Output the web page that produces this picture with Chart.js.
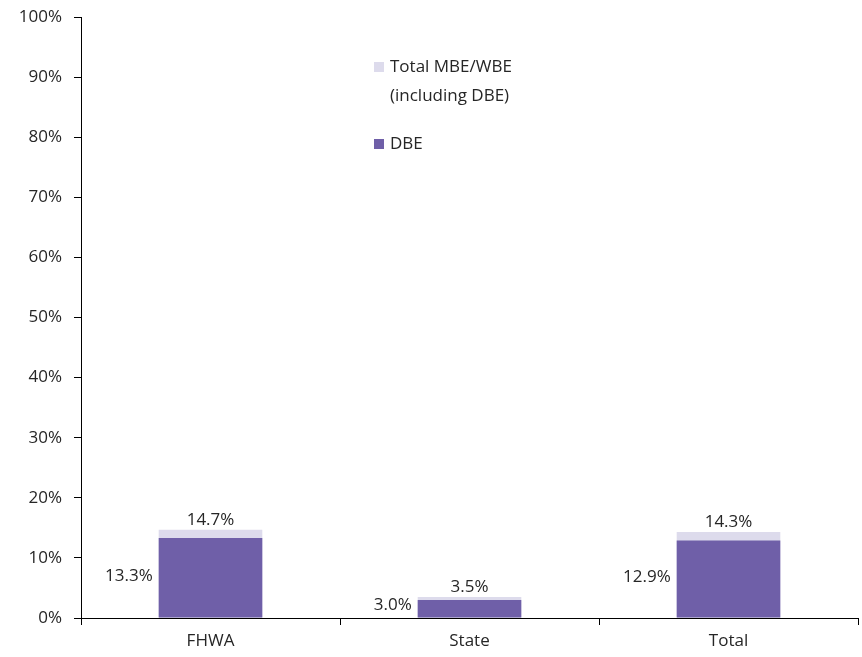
<!DOCTYPE html>
<html>
<head>
    <title>DBE and MBE/WBE utilization</title>
    <script src="https://cdn.jsdelivr.net/npm/chart.js"></script>
    <style>
        body { margin: 0; background: #fff; }
        #wrap { width: 862px; height: 657px; }
    </style>
</head>
<body>
    <div id="wrap"><canvas id="util_chart" width="862" height="657"></canvas></div>
    <script>
        const categories = ['FHWA', 'State', 'Total'];
        const dbe_values = [13.3, 3.0, 12.9];
        const total_values = [14.7, 3.5, 14.3];
        const total_label = ['Total MBE/WBE', '(including DBE)'];
        const dbe_label = 'DBE';

        const text_color = '#262626';
        const font_family = "'Open Sans', 'Noto Sans', sans-serif";
        const font_size = 17;

        // values next to the bars: DBE to the left, total on top
        const barLabels = {
            id: 'barLabels',
            afterDatasetsDraw(chart) {
                const ctx = chart.ctx;
                ctx.save();
                ctx.font = font_size + 'px ' + font_family;
                ctx.fillStyle = text_color;
                const totalMeta = chart.getDatasetMeta(0);
                const dbeMeta = chart.getDatasetMeta(1);
                totalMeta.data.forEach(function (bar, i) {
                    ctx.textAlign = 'center';
                    ctx.textBaseline = 'bottom';
                    ctx.fillText(total_values[i].toFixed(1) + '%', bar.x, bar.y - 1);
                });
                dbeMeta.data.forEach(function (bar, i) {
                    ctx.textAlign = 'right';
                    ctx.textBaseline = 'middle';
                    let y = (bar.y + bar.base) / 2 - 2;
                    if (bar.base - bar.y < 30) y = bar.base - 12;
                    ctx.fillText(dbe_values[i].toFixed(1) + '%', bar.x - bar.width / 2 - 6, y);
                });
                ctx.restore();
            }
        };

        // legend sitting inside the plot area
        const innerLegend = {
            id: 'innerLegend',
            afterDraw(chart) {
                const ctx = chart.ctx;
                ctx.save();
                ctx.font = font_size + 'px ' + font_family;
                ctx.textAlign = 'left';
                ctx.textBaseline = 'middle';
                const ds = chart.data.datasets;
                ctx.fillStyle = ds[0].backgroundColor;
                ctx.fillRect(374, 62, 10, 10);
                ctx.fillStyle = ds[1].backgroundColor;
                ctx.fillRect(374, 139, 10, 10);
                ctx.fillStyle = text_color;
                ctx.fillText(total_label[0], 390, 67);
                ctx.fillText(total_label[1], 390, 96);
                ctx.fillText(dbe_label, 390, 144);
                ctx.restore();
            }
        };

        new Chart(document.getElementById('util_chart'), {
            type: 'bar',
            data: {
                labels: categories,
                datasets: [{
                    label: total_label.join(' '),
                    data: total_values,
                    backgroundColor: '#dddbec',
                    order: 1
                }, {
                    label: dbe_label,
                    data: dbe_values,
                    backgroundColor: '#6f5fa8',
                    order: 0
                }]
            },
            options: {
                responsive: false,
                animation: false,
                layout: { padding: { top: 17, right: 4, left: 0, bottom: 0 } },
                datasets: { bar: { grouped: false, barPercentage: 0.4, categoryPercentage: 1 } },
                plugins: { legend: { display: false }, tooltip: { enabled: false } },
                scales: {
                    x: {
                        grid: { drawOnChartArea: false, drawTicks: true, tickLength: 7, color: '#000', offset: true },
                        border: { display: true, color: '#000', width: 1 },
                        ticks: { color: text_color, font: { size: font_size, family: font_family }, padding: 6 },
                        afterFit(scale) { scale.height = 39; }
                    },
                    y: {
                        min: 0,
                        max: 100,
                        grid: { drawOnChartArea: false, drawTicks: true, tickLength: 7, color: '#000' },
                        border: { display: true, color: '#000', width: 1 },
                        ticks: {
                            stepSize: 10,
                            color: text_color,
                            font: { size: font_size, family: font_family },
                            padding: 12,
                            callback: function (v) { return v + '%'; }
                        },
                        afterFit(scale) { scale.width = 81; scale.paddingTop = 0; scale.paddingBottom = 0; }
                    }
                }
            },
            plugins: [barLabels, innerLegend]
        });
    </script>
</body>
</html>
